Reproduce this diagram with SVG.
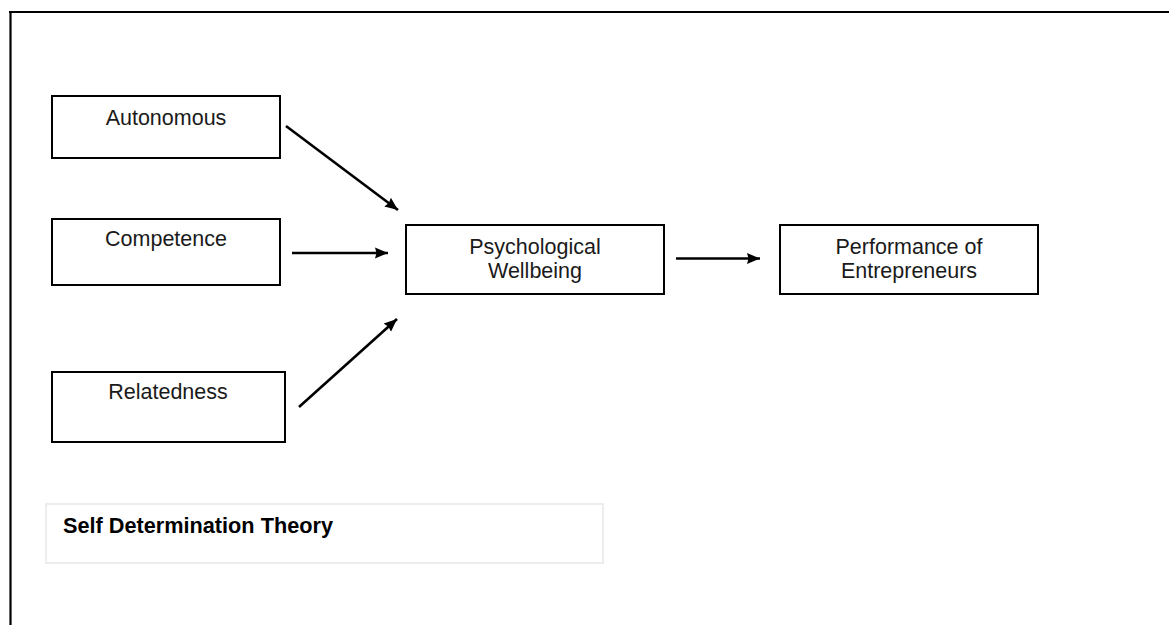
<svg xmlns="http://www.w3.org/2000/svg" width="1169" height="625" viewBox="0 0 1169 625">
<style>
.box{fill:#fff;stroke:#000;stroke-width:2}
.t{font-family:"Liberation Sans",Arial,sans-serif;font-size:21.5px;fill:#1a1a1a;text-anchor:middle}
.c{stroke:#000;stroke-width:2.6;fill:none;marker-end:url(#ah)}
</style>
<defs>
<marker id="ah" markerUnits="userSpaceOnUse" markerWidth="16" markerHeight="14" refX="13" refY="7" orient="auto">
<path d="M0,1.5 L13,7 L0,12.5 L1.5,7 Z" fill="#000"/>
</marker>
</defs>
<rect width="1169" height="625" fill="#fff"/>
<g id="frame" stroke="#000" stroke-width="2.2">
<line x1="9" y1="12" x2="1169" y2="12"/>
<line x1="10.5" y1="11" x2="10.5" y2="625"/>
</g>
<g id="autonomous"><rect class="box" x="52" y="96" width="228" height="62"/><text class="t" x="166" y="125">Autonomous</text></g>
<g id="competence"><rect class="box" x="52" y="219" width="228" height="66"/><text class="t" x="166" y="246">Competence</text></g>
<g id="relatedness"><rect class="box" x="52" y="372" width="233" height="70"/><text class="t" x="168" y="399">Relatedness</text></g>
<g id="wellbeing"><rect class="box" x="406" y="225" width="258" height="69"/><text class="t" x="535" y="254">Psychological</text><text class="t" x="535" y="278">Wellbeing</text></g>
<g id="performance"><rect class="box" x="780" y="225" width="258" height="69"/><text class="t" x="909" y="254">Performance of</text><text class="t" x="909" y="278">Entrepreneurs</text></g>
<g id="connectors">
<line class="c" x1="286" y1="126" x2="398" y2="210"/>
<line class="c" x1="292" y1="253" x2="388" y2="253"/>
<line class="c" x1="299" y1="407" x2="397" y2="319"/>
<line class="c" x1="676" y1="258.5" x2="760" y2="258.5"/>
</g>
<g id="legend"><rect x="46" y="504" width="557" height="59" fill="#fff" stroke="#ededed" stroke-width="2"/><text x="63" y="533" font-family="'Liberation Sans',Arial,sans-serif" font-size="21.7" font-weight="bold" fill="#000">Self Determination Theory</text></g>
</svg>
